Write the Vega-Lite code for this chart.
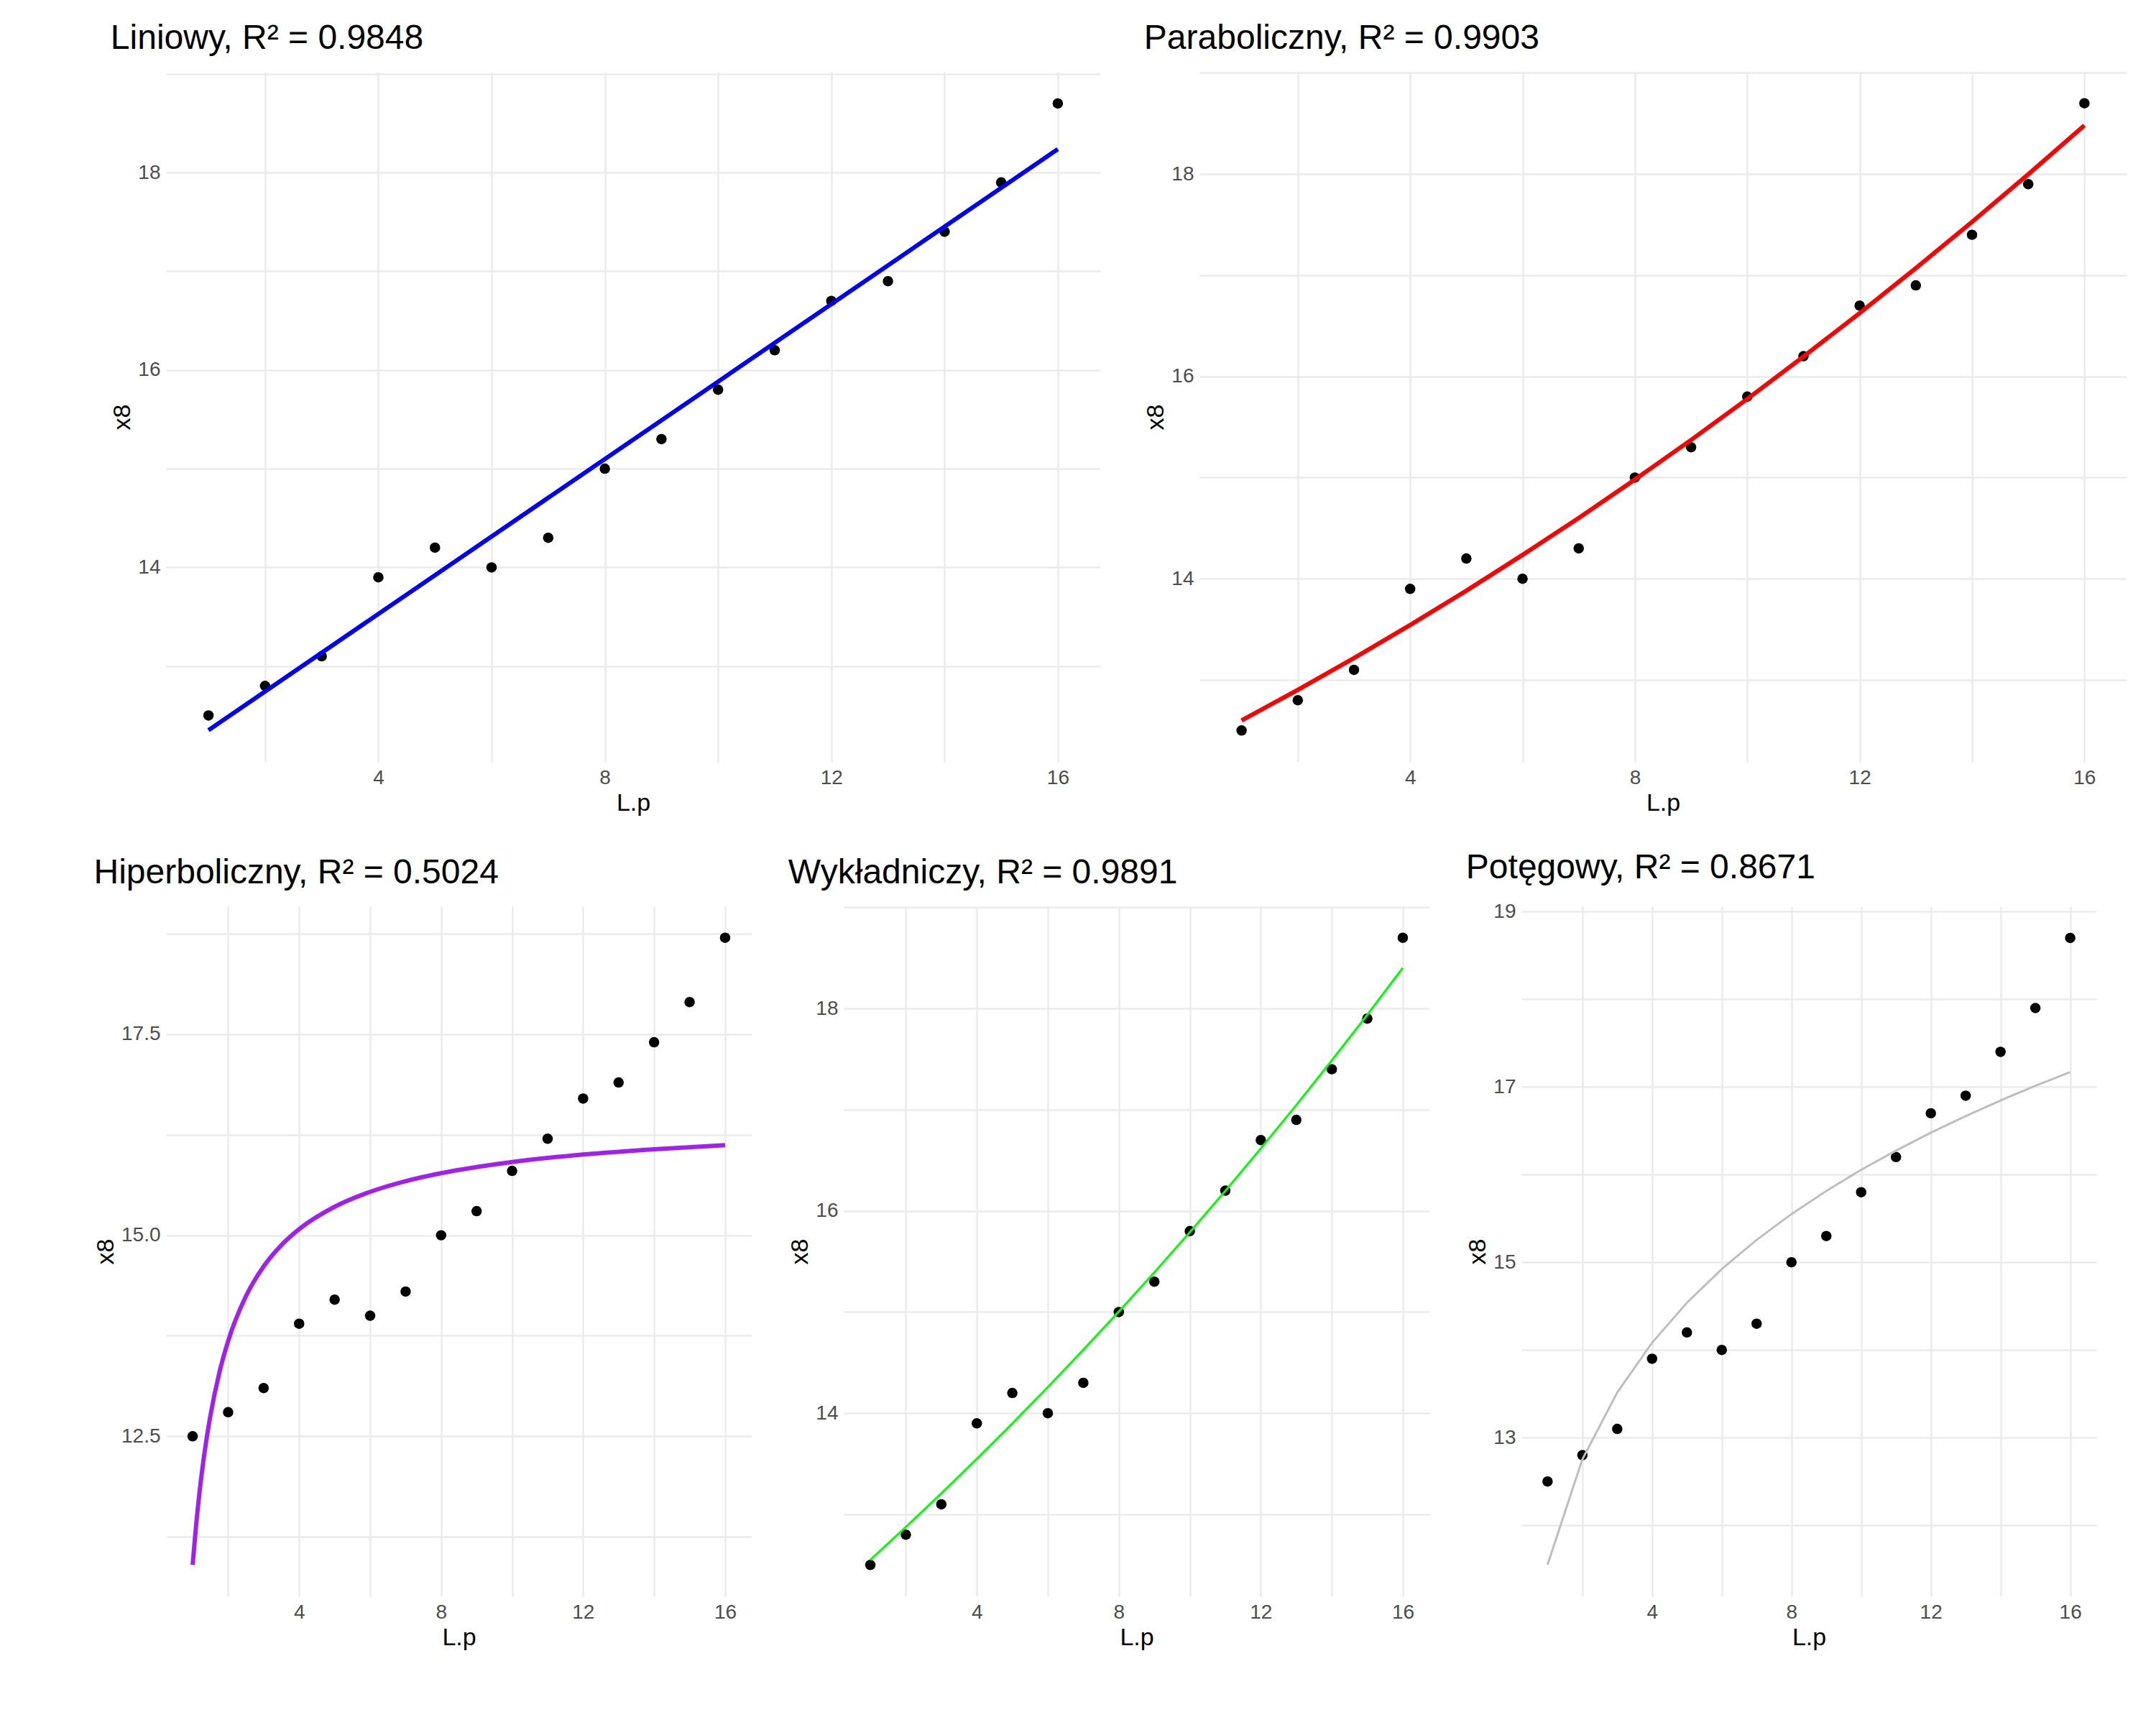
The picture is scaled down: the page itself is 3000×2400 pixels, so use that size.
{
"$schema":"https://vega.github.io/schema/vega-lite/v6.json",
"background":"white",
"padding":{"left":130,"top":30,"right":30,"bottom":20},
"config":{"font":"Liberation Sans","view":{"stroke":null},
"title":{"anchor":"start","fontSize":48,"fontWeight":"normal","color":"#000000","offset":22},
"axis":{"domain":false,"ticks":false,"gridColor":"#ebebeb","gridWidth":2.5,"labelFontSize":28,"labelColor":"#4d4d4d","titleFontSize":34,"titleFontWeight":"normal","titleColor":"#000000","labelPadding":8}},
"datasets":{
"pts":[{"x":1,"y":12.5},{"x":2,"y":12.8},{"x":3,"y":13.1},{"x":4,"y":13.9},{"x":5,"y":14.2},{"x":6,"y":14.0},{"x":7,"y":14.3},{"x":8,"y":15.0},{"x":9,"y":15.3},{"x":10,"y":15.8},{"x":11,"y":16.2},{"x":12,"y":16.7},{"x":13,"y":16.9},{"x":14,"y":17.4},{"x":15,"y":17.9},{"x":16,"y":18.7}],
"fit":[
{"m":"lin","x":1,"y":12.351},{"m":"lin","x":16,"y":18.237},
{"m":"par","x":1,"y":12.6},{"m":"par","x":2,"y":12.901},{"m":"par","x":3,"y":13.215},{"m":"par","x":4,"y":13.542},{"m":"par","x":5,"y":13.882},{"m":"par","x":6,"y":14.235},{"m":"par","x":7,"y":14.6},{"m":"par","x":8,"y":14.98},{"m":"par","x":9,"y":15.372},{"m":"par","x":10,"y":15.777},{"m":"par","x":11,"y":16.196},{"m":"par","x":12,"y":16.626},{"m":"par","x":13,"y":17.07},{"m":"par","x":14,"y":17.527},{"m":"par","x":15,"y":17.997},{"m":"par","x":16,"y":18.48},
{"m":"hip","x":1,"y":10.9},{"m":"hip","x":1.1,"y":11.406},{"m":"hip","x":1.2,"y":11.828},{"m":"hip","x":1.3,"y":12.185},{"m":"hip","x":1.4,"y":12.491},{"m":"hip","x":1.5,"y":12.756},{"m":"hip","x":1.75,"y":13.286},{"m":"hip","x":2,"y":13.684},{"m":"hip","x":2.5,"y":14.241},{"m":"hip","x":3,"y":14.612},{"m":"hip","x":3.5,"y":14.877},{"m":"hip","x":4,"y":15.076},{"m":"hip","x":5,"y":15.354},{"m":"hip","x":6,"y":15.54},{"m":"hip","x":7,"y":15.673},{"m":"hip","x":8,"y":15.772},{"m":"hip","x":10,"y":15.911},{"m":"hip","x":12,"y":16.004},{"m":"hip","x":14,"y":16.07},{"m":"hip","x":16,"y":16.12},
{"m":"exp","x":1,"y":12.55},{"m":"exp","x":2,"y":12.874},{"m":"exp","x":3,"y":13.207},{"m":"exp","x":4,"y":13.548},{"m":"exp","x":5,"y":13.898},{"m":"exp","x":6,"y":14.257},{"m":"exp","x":7,"y":14.626},{"m":"exp","x":8,"y":15.004},{"m":"exp","x":9,"y":15.391},{"m":"exp","x":10,"y":15.789},{"m":"exp","x":11,"y":16.197},{"m":"exp","x":12,"y":16.616},{"m":"exp","x":13,"y":17.045},{"m":"exp","x":14,"y":17.486},{"m":"exp","x":15,"y":17.937},{"m":"exp","x":16,"y":18.401},
{"m":"pot","x":1,"y":11.55},{"m":"pot","x":2,"y":12.754},{"m":"pot","x":3,"y":13.515},{"m":"pot","x":4,"y":14.083},{"m":"pot","x":5,"y":14.539},{"m":"pot","x":6,"y":14.923},{"m":"pot","x":7,"y":15.255},{"m":"pot","x":8,"y":15.55},{"m":"pot","x":9,"y":15.814},{"m":"pot","x":10,"y":16.055},{"m":"pot","x":11,"y":16.274},{"m":"pot","x":12,"y":16.478},{"m":"pot","x":13,"y":16.668},{"m":"pot","x":14,"y":16.846},{"m":"pot","x":15,"y":17.013},{"m":"pot","x":16,"y":17.17}]},
"vconcat":[
{"hconcat":[
{"title":"Liniowy, R² = 0.9848","width":1300,"height":960,
"encoding":{"x":{"field":"x","type":"quantitative","title":"L.p","scale":{"domain":[0.25,16.75],"nice":false,"zero":false},"axis":{"values":[2,4,6,8,10,12,14,16],"labelExpr":"datum.value % 4 == 0 ? datum.label : ''"}},
"y":{"field":"y","type":"quantitative","title":"x8","scale":{"domain":[12.03,19.02],"nice":false,"zero":false},"axis":{"values":[13,14,15,16,17,18,19],"labelExpr":"datum.value % 2 == 0 ? datum.label : ''"}}},
"layer":[{"data":{"name":"pts"},"mark":{"type":"circle","size":210,"color":"black","opacity":1}},
{"data":{"name":"fit"},"transform":[{"filter":"datum.m=='lin'"}],"mark":{"type":"line","color":"#0000ff","strokeWidth":6}}]},
{"title":"Paraboliczny, R² = 0.9903","width":1290,"height":960,
"encoding":{"x":{"field":"x","type":"quantitative","title":"L.p","scale":{"domain":[0.25,16.75],"nice":false,"zero":false},"axis":{"values":[2,4,6,8,10,12,14,16],"labelExpr":"datum.value % 4 == 0 ? datum.label : ''"}},
"y":{"field":"y","type":"quantitative","title":"x8","scale":{"domain":[12.19,19.01],"nice":false,"zero":false},"axis":{"values":[13,14,15,16,17,18,19],"labelExpr":"datum.value % 2 == 0 ? datum.label : ''"}}},
"layer":[{"data":{"name":"pts"},"mark":{"type":"circle","size":210,"color":"black","opacity":1}},
{"data":{"name":"fit"},"transform":[{"filter":"datum.m=='par'"}],"mark":{"type":"line","color":"#ff0000","strokeWidth":6}}]}
],"spacing":60},
{"hconcat":[
{"title":"Hiperboliczny, R² = 0.5024","width":815,"height":960,
"encoding":{"x":{"field":"x","type":"quantitative","title":"L.p","scale":{"domain":[0.25,16.75],"nice":false,"zero":false},"axis":{"values":[2,4,6,8,10,12,14,16],"labelExpr":"datum.value % 4 == 0 ? datum.label : ''"}},
"y":{"field":"y","type":"quantitative","title":"x8","scale":{"domain":[10.51,19.09],"nice":false,"zero":false},"axis":{"values":[11.25,12.5,13.75,15,16.25,17.5,18.75],"labelExpr":"datum.value == 12.5 ? '12.5' : datum.value == 15 ? '15.0' : datum.value == 17.5 ? '17.5' : ''"}}},
"layer":[{"data":{"name":"pts"},"mark":{"type":"circle","size":210,"color":"black","opacity":1}},
{"data":{"name":"fit"},"transform":[{"filter":"datum.m=='hip'"}],"mark":{"type":"line","color":"#a020f0","strokeWidth":6,"interpolate":"monotone"}}]},
{"title":"Wykładniczy, R² = 0.9891","width":815,"height":960,
"encoding":{"x":{"field":"x","type":"quantitative","title":"L.p","scale":{"domain":[0.25,16.75],"nice":false,"zero":false},"axis":{"values":[2,4,6,8,10,12,14,16],"labelExpr":"datum.value % 4 == 0 ? datum.label : ''"}},
"y":{"field":"y","type":"quantitative","title":"x8","scale":{"domain":[12.19,19.01],"nice":false,"zero":false},"axis":{"values":[13,14,15,16,17,18,19],"labelExpr":"datum.value % 2 == 0 ? datum.label : ''"}}},
"layer":[{"data":{"name":"pts"},"mark":{"type":"circle","size":210,"color":"black","opacity":1}},
{"data":{"name":"fit"},"transform":[{"filter":"datum.m=='exp'"}],"mark":{"type":"line","color":"#00ff00","strokeWidth":3}}]},
{"title":"Potęgowy, R² = 0.8671","width":800,"height":960,
"encoding":{"x":{"field":"x","type":"quantitative","title":"L.p","scale":{"domain":[0.25,16.75],"nice":false,"zero":false},"axis":{"values":[2,4,6,8,10,12,14,16],"labelExpr":"datum.value % 4 == 0 ? datum.label : ''"}},
"y":{"field":"y","type":"quantitative","title":"x8","scale":{"domain":[11.19,19.06],"nice":false,"zero":false},"axis":{"values":[12,13,14,15,16,17,18,19],"labelExpr":"datum.value % 2 == 1 ? datum.label : ''"}}},
"layer":[{"data":{"name":"pts"},"mark":{"type":"circle","size":210,"color":"black","opacity":1}},
{"data":{"name":"fit"},"transform":[{"filter":"datum.m=='pot'"}],"mark":{"type":"line","color":"#bebebe","strokeWidth":3}}]}
],"spacing":50}
],"spacing":50}
